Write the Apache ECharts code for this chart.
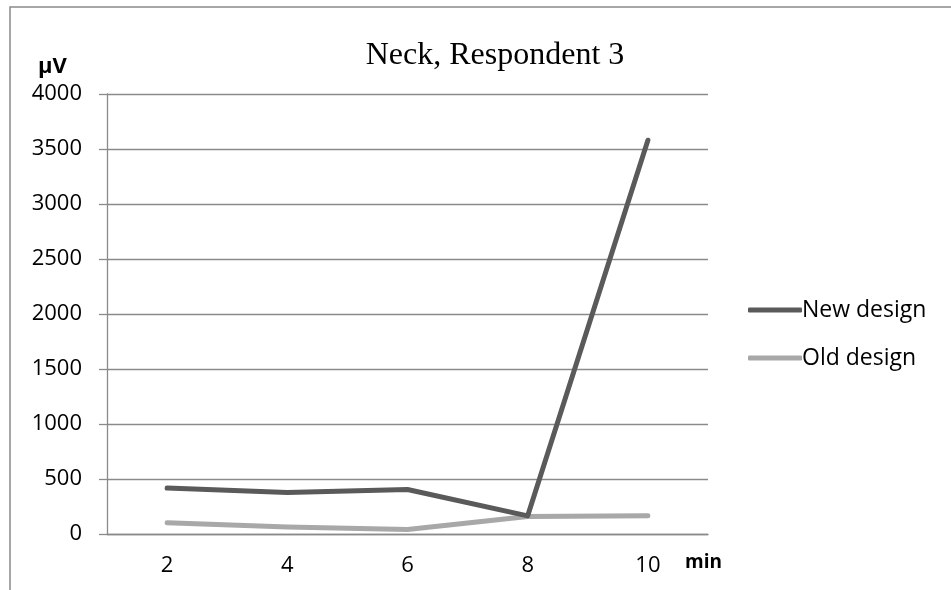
<!DOCTYPE html>
<html>
<head>
<meta charset="utf-8">
<script src="https://cdn.jsdelivr.net/npm/echarts@6/dist/echarts.min.js"></script>
<style>
  html, body { margin: 0; padding: 0; background: #fff; }
  #chart { width: 951px; height: 590px; }
</style>
</head>
<body>
<div id="chart"></div>
<script>
// Sampling times (minutes) and EMG readings (µV) for the neck muscle
const minutes = ['2', '4', '6', '8', '10'];
const newDesign = [418, 377, 404, 165, 3580];
const oldDesign = [103, 64, 40, 160, 165];
const yTicks = { min: 0, max: 4000, interval: 500 };

const gridColor = '#8a8a8a';
const labelFont = '"Open Sans", "Noto Sans", sans-serif';
const labelSize = 22;

const chart = echarts.init(document.getElementById('chart'));
chart.setOption({
  backgroundColor: '#ffffff',
  animation: false,
  title: {
    text: 'Neck, Respondent 3',
    left: 490,
    top: 35,
    textAlign: 'center',
    textStyle: {
      fontFamily: '"Liberation Serif", "DejaVu Serif", serif',
      fontWeight: 'normal',
      fontSize: 32,
      color: '#000'
    }
  },
  grid: { left: 107, right: 243, top: 94, bottom: 56, containLabel: false },
  legend: {
    orient: 'vertical',
    left: 743,
    top: 292,
    itemWidth: 54,
    itemHeight: 5,
    itemGap: 22,
    icon: 'roundRect',
    textStyle: {
      fontFamily: labelFont,
      fontSize: 23,
      color: '#000',
      padding: [0, 0, 0, -5],
      lineHeight: 26
    },
    data: ['New design', 'Old design']
  },
  xAxis: {
    type: 'category',
    data: minutes,
    boundaryGap: true,
    axisLine: { lineStyle: { color: gridColor, width: 1.3 } },
    axisTick: { show: false },
    axisLabel: {
      fontFamily: labelFont,
      fontSize: labelSize,
      color: '#000',
      margin: 21
    }
  },
  yAxis: {
    type: 'value',
    min: yTicks.min,
    max: yTicks.max,
    interval: yTicks.interval,
    axisLine: { show: true, lineStyle: { color: gridColor, width: 1.3 } },
    axisTick: { show: true, length: 8, lineStyle: { color: gridColor, width: 1.3 } },
    axisLabel: {
      fontFamily: labelFont,
      fontSize: labelSize,
      color: '#000',
      margin: 25,
      formatter: (v) => String(v)
    },
    splitLine: { show: true, lineStyle: { color: gridColor, width: 1.3 } }
  },
  series: [
    {
      name: 'New design',
      type: 'line',
      data: newDesign,
      symbol: 'none',
      color: '#5a5a5a',
      lineStyle: { width: 5, color: '#5a5a5a', cap: 'round', join: 'round' },
      z: 3
    },
    {
      name: 'Old design',
      type: 'line',
      data: oldDesign,
      symbol: 'none',
      color: '#a8a8a8',
      lineStyle: { width: 5, color: '#a8a8a8', cap: 'round', join: 'round' },
      z: 2
    }
  ],
  graphic: [
    {
      type: 'rect',
      shape: { x: 10, y: 7, width: 1000, height: 700 },
      style: { fill: 'none', stroke: '#8a8a8a', lineWidth: 1.5 },
      silent: true
    },
    {
      // unit of the value axis
      type: 'text',
      left: 38,
      top: 56,
      style: {
        text: 'µV',
        font: 'bold ' + labelSize + 'px ' + labelFont,
        fill: '#000'
      }
    },
    {
      // unit of the time axis
      type: 'text',
      left: 685,
      top: 553,
      style: {
        text: 'min',
        font: 'bold 19px ' + labelFont,
        fill: '#000'
      }
    }
  ]
});
</script>
</body>
</html>
